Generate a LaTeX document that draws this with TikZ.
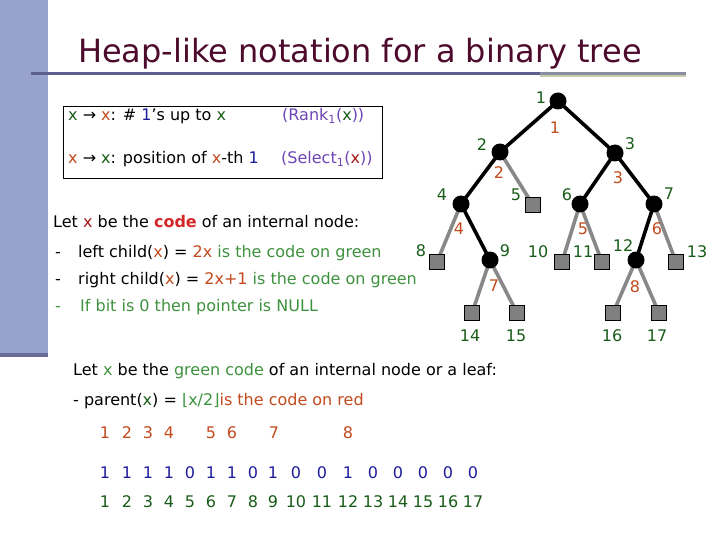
\documentclass[tikz,border=0pt]{standalone}
\usepackage{fontspec}
\setmainfont{DejaVu Sans}
\usetikzlibrary{backgrounds}
\definecolor{titlec}{RGB}{77,10,45}
\definecolor{barc}{RGB}{152,163,205}
\definecolor{bardark}{RGB}{104,108,150}
\definecolor{linedark}{RGB}{92,96,140}
\definecolor{linegray}{RGB}{138,142,160}
\definecolor{olivec}{RGB}{200,203,168}
\definecolor{dgreen}{RGB}{24,92,24}
\definecolor{lgreen}{RGB}{62,145,62}
\definecolor{orng}{RGB}{194,74,31}
\definecolor{redc}{RGB}{212,40,40}
\definecolor{dred}{RGB}{170,20,20}
\definecolor{bluec}{RGB}{28,28,156}
\definecolor{purp}{RGB}{110,69,181}
\definecolor{leafgray}{RGB}{128,128,128}
\definecolor{edgegray}{RGB}{136,136,136}
\newcommand\gx{\textcolor{dgreen}{x}}
\newcommand\ox{\textcolor{orng}{x}}
\tikzset{
  txt/.style={anchor=base west, inner sep=0pt, font=\fontsize{16}{19}\selectfont},
  lab/.style={inner sep=0pt, font=\fontsize{16}{19}\selectfont},
  glab/.style={lab, text=dgreen},
  rlab/.style={lab, text=orng},
  inode/.style={circle, fill=black, minimum size=17pt, inner sep=0pt},
  leaf/.style={rectangle, draw=black, line width=0.6pt, fill=leafgray, minimum size=15pt, inner sep=0pt},
  bedge/.style={line width=3.6pt, black},
  gedge/.style={line width=3.6pt, edgegray}
}
\begin{document}
\begin{tikzpicture}[x=1pt,y=-1pt]
\useasboundingbox (0,0) rectangle (720,540);
% decoration
\fill[barc] (0,0) rectangle (48,354);
\fill[bardark] (0,353) rectangle (48,357);
\fill[linedark] (31,72) rectangle (540,75);
\fill[olivec] (540,74.5) rectangle (686,77.5);
\fill[linegray] (540,72) rectangle (686,75);
% title
\node[anchor=base west, inner sep=0pt, font=\fontsize{32}{38}\selectfont, text=titlec] (title) at (78,63) {Heap-like notation for a binary tree};
% box
\node[draw=black, line width=0.8pt, anchor=north west, minimum width=319pt, minimum height=72pt, inner sep=0pt] (box) at (63,106) {};
\node[txt] (b1) at (68,121) {\gx{} → \ox: \# \textcolor{bluec}{1}’s up to \gx};
\node[txt, text=purp] (b1r) at (282,121) {(Rank\textsubscript{1}(\textcolor{dgreen}{x}))};
\node[txt] (b2) at (68,164) {\ox{} → \gx: position of \ox-th \textcolor{bluec}{1}};
\node[txt, text=purp] (b2r) at (281,164) {(Select\textsubscript{1}(\textcolor{dred}{x}))};
% first paragraph
\node[txt] (p1) at (53,228) {Let \textcolor{dred}{x} be the \textcolor{redc}{\bfseries code} of an internal node:};
\node[txt] (d1) at (55,257) {-};
\node[txt] (p2) at (78,257) {left child(\ox) = \textcolor{orng}{2x} \textcolor{lgreen}{is the code on green}};
\node[txt] (d2) at (55,284) {-};
\node[txt] (p3) at (78,284) {right child(\ox) = \textcolor{orng}{2x+1} \textcolor{lgreen}{is the code on green}};
\node[txt, text=lgreen] (d3) at (55,311) {-};
\node[txt, text=lgreen] (p4) at (80,311) {If bit is 0 then pointer is NULL};
% second paragraph
\node[txt] (q1) at (73,375) {Let \textcolor{lgreen}{x} be the \textcolor{lgreen}{green code} of an internal node or a leaf:};
\node[txt] (q2) at (73,405) {- parent(\gx) = \textcolor{lgreen}{⌊x/2⌋}\textcolor{orng}{is the code on red}};
% rows
\foreach \i/\c in {1/105,2/127,3/148,4/169,5/211,6/232,7/274,8/348}
  \node[lab, anchor=base, text=orng] (r\i) at (\c,438) {\i};
\foreach \i/\c/\b in {1/105/1,2/127/1,3/148/1,4/169/1,5/190/0,6/211/1,7/232/1,8/253/0,9/273/1,10/296/0,11/322/0,12/348/1,13/373/0,14/398/0,15/423/0,16/448/0,17/473/0}{
  \node[lab, anchor=base, text=bluec] (bit\i) at (\c,478) {\b};
  \node[lab, anchor=base, text=dgreen] (idx\i) at (\c,507) {\i};
}
% tree nodes
\node[inode] (t1) at (558,101) {};
\node[inode] (t2) at (500,152) {};
\node[inode] (t3) at (615,153) {};
\node[inode] (t4) at (461,204) {};
\node[leaf]  (t5) at (533,205) {};
\node[inode] (t6) at (580,204) {};
\node[inode] (t7) at (654,204) {};
\node[leaf]  (t8) at (437,262) {};
\node[inode] (t9) at (490,260) {};
\node[leaf]  (t10) at (562,262) {};
\node[leaf]  (t11) at (602,262) {};
\node[inode] (t12) at (636,260) {};
\node[leaf]  (t13) at (676,262) {};
\node[leaf]  (t14) at (472,313) {};
\node[leaf]  (t15) at (517,313) {};
\node[leaf]  (t16) at (613,313) {};
\node[leaf]  (t17) at (659,313) {};
\begin{scope}[on background layer]
\draw[bedge] (t1.center) -- (t2.center);
\draw[bedge] (t1.center) -- (t3.center);
\draw[bedge] (t2.center) -- (t4.center);
\draw[bedge] (t3.center) -- (t6.center);
\draw[bedge] (t3.center) -- (t7.center);
\draw[bedge] (t4.center) -- (t9.center);
\draw[bedge] (t7.center) -- (t12.center);
\draw[gedge] (t2.center) -- (t5.center);
\draw[gedge] (t4.center) -- (t8.center);
\draw[gedge] (t9.center) -- (t14.center);
\draw[gedge] (t9.center) -- (t15.center);
\draw[gedge] (t6.center) -- (t10.center);
\draw[gedge] (t6.center) -- (t11.center);
\draw[gedge] (t7.center) -- (t13.center);
\draw[gedge] (t12.center) -- (t16.center);
\draw[gedge] (t12.center) -- (t17.center);
\end{scope}
% green labels
\node[glab] (g1) at (541,98) {1};
\node[glab] (g2) at (482,145) {2};
\node[glab] (g3) at (630,144) {3};
\node[glab] (g4) at (442,195) {4};
\node[glab] (g5) at (516,195) {5};
\node[glab] (g6) at (567,195) {6};
\node[glab] (g7) at (669,194) {7};
\node[glab] (g8) at (421,251) {8};
\node[glab] (g9) at (505,251) {9};
\node[glab] (g10) at (538,252) {10};
\node[glab] (g11) at (583,252) {11};
\node[glab] (g12) at (623,246) {12};
\node[glab] (g13) at (697,252) {13};
\node[glab] (g14) at (470,336) {14};
\node[glab] (g15) at (516,336) {15};
\node[glab] (g16) at (612,336) {16};
\node[glab] (g17) at (657,336) {17};
% red labels
\node[rlab] (o1) at (555,128) {1};
\node[rlab] (o2) at (499,173) {2};
\node[rlab] (o3) at (618,178) {3};
\node[rlab] (o4) at (459,229) {4};
\node[rlab] (o5) at (583,229) {5};
\node[rlab] (o6) at (657,229) {6};
\node[rlab] (o7) at (494,286) {7};
\node[rlab] (o8) at (635,287) {8};
\end{tikzpicture}
\end{document}
